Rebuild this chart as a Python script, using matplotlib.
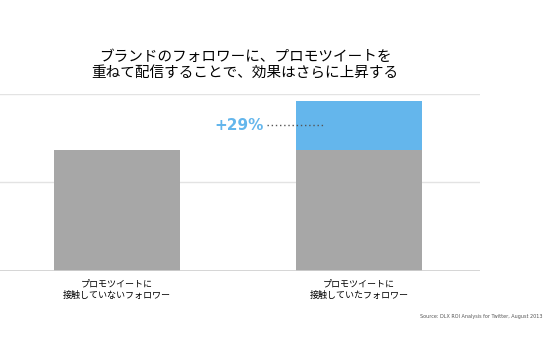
import matplotlib.pyplot as plt

plt.rcParams['font.family'] = ['Noto Sans CJK JP', 'DejaVu Sans']

categories = ["プロモツイートに\n接触していないフォロワー", "プロモツイートに\n接触していたフォロワー"]
base_values = [137, 137]
uplift_values = [0, 55]
uplift_label = "+29%"
title = "ブランドのフォロワーに、プロモツイートを\n重ねて配信することで、効果はさらに上昇する"
source = "Source: DLX ROI Analysis for Twitter, August 2013"

gray = "#a7a7a7"
blue = "#64b6ec"

fig = plt.figure(figsize=(5.45, 3.54), dpi=100)
ax = fig.add_axes([0, 0.2345, 0.881, 0.50])

x = list(range(len(categories)))
ax.bar(x, base_values, width=0.52, color=gray, zorder=2)
ax.bar(x, uplift_values, width=0.52, bottom=base_values, color=blue, zorder=2)

ax.set_xlim(-0.483, 1.5)
ax.set_ylim(0, 200)
ax.set_yticks([0, 100, 200])
ax.yaxis.grid(True, color="#e3e3e3", linewidth=1, zorder=0)
ax.tick_params(left=False, bottom=False, labelleft=False, labelbottom=False)
for s in ax.spines.values():
    s.set_visible(False)
ax.axhline(0, color="#d0d0d0", linewidth=1.2, zorder=3)

# uplift annotation
mid = base_values[1] + uplift_values[1] / 2
ax.plot([0.62, 0.855], [mid, mid], linestyle=(0, (1, 2)), color="#555555",
        linewidth=1, zorder=4)
ax.text(0.605, mid, uplift_label, color=blue, fontsize=11, fontweight="bold",
        ha="right", va="center", family="DejaVu Sans")

for xi, label in zip(x, categories):
    ax.text(xi, -10, label, ha="center", va="top", fontsize=6.5,
            linespacing=1.25)

fig.text(0.45, 0.815, title, ha="center", va="center", fontsize=10.5,
         linespacing=1.25)
fig.text(0.995, 0.107, source, ha="right", va="center", fontsize=3.5,
         color="#555555", family="DejaVu Sans")

fig.savefig("out.png", dpi=100)
